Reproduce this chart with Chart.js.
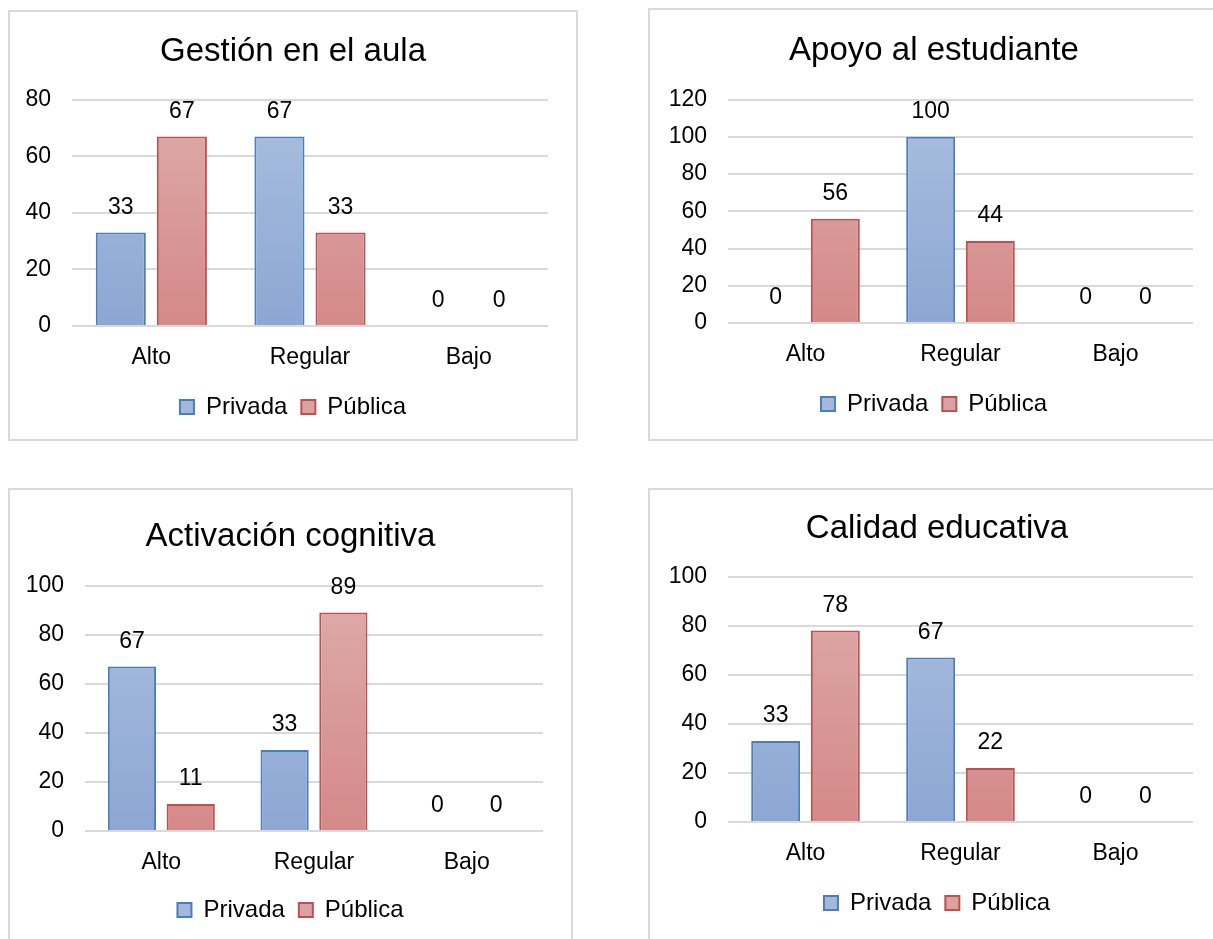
<!DOCTYPE html>
<html>
<head>
<meta charset="utf-8">
<script src="https://cdn.jsdelivr.net/npm/chart.js@4.4.1/dist/chart.umd.min.js"></script>
<style>
  html, body { margin: 0; padding: 0; background: #fff; overflow: hidden; }
  .panel { position: absolute; box-sizing: border-box; border: 2px solid #d9d9d9; background: #fff; }
  .panel canvas { display: block; }
</style>
</head>
<body>
<div class="panel" style="left:8px;top:10px;width:570px;height:431px"><canvas id="c1"></canvas></div>
<div class="panel" style="left:648px;top:8px;width:570px;height:433px"><canvas id="c2"></canvas></div>
<div class="panel" style="left:8px;top:488px;width:565px;height:470px"><canvas id="c3"></canvas></div>
<div class="panel" style="left:648px;top:488px;width:570px;height:470px"><canvas id="c4"></canvas></div>
<script>
// data
const categories = ["Alto", "Regular", "Bajo"];
const seriesNames = ["Privada", "Pública"];

const titles = ["Gestión en el aula", "Apoyo al estudiante", "Activación cognitiva", "Calidad educativa"];
const yMax   = [80, 120, 100, 100];

const gestionPrivada = [33, 67, 0];
const gestionPublica = [67, 33, 0];
const apoyoPrivada   = [0, 100, 0];
const apoyoPublica   = [56, 44, 0];
const activPrivada   = [67, 33, 0];
const activPublica   = [11, 89, 0];
const calidadPrivada = [33, 67, 0];
const calidadPublica = [78, 22, 0];

Chart.defaults.font.family = "'Liberation Sans', Arial, sans-serif";
Chart.defaults.color = "#000";

// value labels above bars
const barLabels = {
  id: "barLabels",
  afterDatasetsDraw(chart) {
    const ctx = chart.ctx;
    ctx.save();
    ctx.font = "23px 'Liberation Sans', Arial, sans-serif";
    ctx.fillStyle = "#000";
    ctx.textAlign = "center";
    ctx.textBaseline = "middle";
    chart.data.datasets.forEach((ds, i) => {
      chart.getDatasetMeta(i).data.forEach((el, j) => {
        ctx.fillText(ds.data[j], el.x, el.y - 25);
      });
    });
    ctx.restore();
  }
};

function grad(top, bottom) {
  return (c) => {
    const a = c.chart.chartArea;
    if (!a) return bottom;
    const g = c.chart.ctx.createLinearGradient(0, a.top, 0, a.bottom);
    g.addColorStop(0, top);
    g.addColorStop(1, bottom);
    return g;
  };
}

// lay: title paddings, left/bottom padding, y axis width, right gap, x axis height
function makeChart(id, n, priv, pub, lay) {
  const el = document.getElementById(id);
  const box = el.parentElement;
  el.width = box.clientWidth; el.height = box.clientHeight;
  new Chart(el, {
    type: "bar",
    data: {
      labels: categories,
      datasets: [
        { label: seriesNames[0], data: priv,
          backgroundColor: grad("#abbfdf", "#8ca7d3"), borderColor: "#4a7ebb", borderWidth: 2,
          categoryPercentage: 0.77, barPercentage: 0.82 },
        { label: seriesNames[1], data: pub,
          backgroundColor: grad("#ddacab", "#d48988"), borderColor: "#c0504d", borderWidth: 2,
          categoryPercentage: 0.77, barPercentage: 0.82 }
      ]
    },
    options: {
      responsive: false, animation: false,
      layout: { padding: { top: 0, left: lay.l, right: 0, bottom: lay.b } },
      plugins: {
        title: { display: true, text: titles[n], font: { size: 33, weight: "normal" }, color: "#000",
                 padding: { top: lay.tt, bottom: lay.tb } },
        legend: { position: "bottom",
                  labels: { boxWidth: 14, boxHeight: 14, padding: 14, font: { size: 24 }, color: "#000",
                            generateLabels: (ch) => ch.data.datasets.map((d, i) => ({
                              text: d.label, fillStyle: i === 0 ? "#a3b8da" : "#daa3a3",
                              strokeStyle: d.borderColor, lineWidth: 2, datasetIndex: i })) } },
        tooltip: { enabled: false }
      },
      scales: {
        x: { grid: { display: false, drawTicks: false }, border: { display: false },
             ticks: { font: { size: 23 }, color: "#000", padding: 18 },
             afterFit: (s) => { s.height = lay.xh; } },
        y: { min: 0, max: yMax[n], grid: { color: "#d9d9d9", lineWidth: 2, drawTicks: false },
             border: { display: false },
             ticks: { stepSize: 20, font: { size: 23 }, color: "#000", padding: 21 },
             afterFit: (s) => { s.width = lay.yw; } },
        // empty right-hand axis, only keeps the gap right of the plot
        gap: { position: "right", grid: { display: false, drawTicks: false }, border: { display: false },
               ticks: { display: false }, afterFit: (s) => { s.width = lay.r; } }
      }
    },
    plugins: [barLabels]
  });
}

makeChart("c1", 0, gestionPrivada, gestionPublica, { tt: 20, tb: 28, l: 0, b: 10, yw: 62, r: 28, xh: 55 });
makeChart("c2", 1, apoyoPrivada, apoyoPublica,     { tt: 21, tb: 29, l: 2, b: 13, yw: 76, r: 23, xh: 55 });
makeChart("c3", 2, activPrivada, activPublica,     { tt: 27, tb: 29, l: 0, b: 24, yw: 75, r: 28, xh: 53 });
makeChart("c4", 3, calidadPrivada, calidadPublica, { tt: 19, tb: 28, l: 8, b: 31, yw: 70, r: 23, xh: 55 });
</script>
</body>
</html>
